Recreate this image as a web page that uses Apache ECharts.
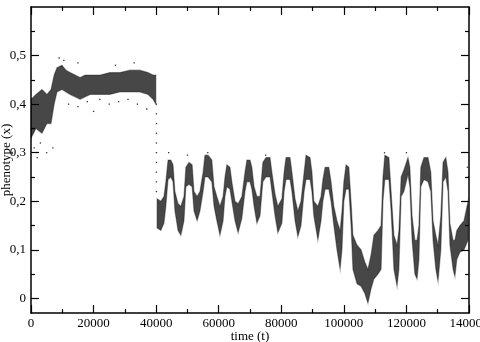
<!DOCTYPE html>
<html><head><meta charset="utf-8">
<script src="https://cdn.jsdelivr.net/npm/echarts@6/dist/echarts.min.js"></script>
<style>html,body{margin:0;padding:0;background:#fff}#c{width:480px;height:342px}</style>
</head><body><div id="c"></div>
<script>
// ---- data ----
const xTickValues = [0, 20000, 40000, 60000, 80000, 100000, 120000, 140000];
const yTickLabels = [0, 0.1, 0.2, 0.3, 0.4, 0.5];
const yMinorTicks = [0.05, 0.15, 0.25, 0.35, 0.45, 0.55];

// dense cloud of points: time, lower edge, upper edge (null = break)
const bandTime = [
  0,1600,3500,5100,6400,7400,8300,9900,11200,12500,14100,15700,17300,18900,22100,25200,28400,31600,34800,37400,39000,39900,
  null,
  40300,41500,42500,43100,43800,44700,45400,46000,47000,47900,48900,49500,50500,51500,52100,53100,54000,55000,55600,56600,
  57800,58500,59400,60400,61400,62000,62600,63600,64200,65200,66200,67400,68400,69000,70000,70600,71300,72200,73200,74100,
  75100,76400,77000,78000,78900,80200,80900,81500,82800,83400,84400,85300,86300,87300,87900,89200,89800,90400,91700,92700,
  93300,94000,95200,95900,96800,97800,98800,99400,100000,100700,101600,102300,102900,104200,105500,106700,107700,108700,
  109600,110900,111900,112500,113100,114400,115100,116000,117000,117600,118300,119200,120500,121100,121800,122700,123400,
  124000,124600,125600,126900,127800,128500,129400,130100,131000,131700,132600,133300,133900,134900,135500,136100,137100,
  138400,139700
];
const bandLow = [
  0.33,0.35,0.34,0.36,0.36,0.40,0.425,0.43,0.425,0.42,0.415,0.41,0.415,0.42,0.42,0.42,0.425,0.425,0.425,0.42,0.41,0.40,
  null,
  0.145,0.14,0.155,0.19,0.245,0.25,0.24,0.18,0.14,0.13,0.16,0.23,0.235,0.23,0.18,0.16,0.18,0.22,0.25,0.25,
  0.24,0.19,0.16,0.13,0.16,0.21,0.23,0.225,0.20,0.16,0.135,0.165,0.22,0.24,0.24,0.225,0.19,0.155,0.17,0.24,
  0.25,0.25,0.22,0.17,0.135,0.155,0.22,0.245,0.245,0.22,0.16,0.127,0.15,0.22,0.245,0.245,0.22,0.17,0.12,0.16,
  0.20,0.225,0.225,0.20,0.15,0.10,0.06,0.10,0.20,0.225,0.225,0.15,0.06,0.03,0.025,0.01,-0.01,0.02,
  0.04,0.05,0.06,0.20,0.245,0.245,0.18,0.06,0.025,0.06,0.21,0.22,0.255,0.23,0.12,0.05,0.04,
  0.08,0.23,0.245,0.24,0.22,0.12,0.06,0.035,0.10,0.24,0.25,0.22,0.11,0.06,0.045,0.08,0.095,
  0.10,0.12
];
const bandHigh = [
  0.41,0.42,0.43,0.42,0.43,0.46,0.475,0.48,0.47,0.465,0.46,0.455,0.46,0.46,0.46,0.465,0.465,0.47,0.47,0.465,0.46,0.46,
  null,
  0.205,0.20,0.21,0.24,0.285,0.285,0.275,0.22,0.195,0.19,0.21,0.27,0.28,0.275,0.22,0.21,0.22,0.26,0.295,0.295,
  0.285,0.23,0.21,0.19,0.21,0.25,0.275,0.27,0.24,0.20,0.195,0.21,0.26,0.285,0.285,0.27,0.23,0.21,0.21,0.28,
  0.29,0.29,0.26,0.215,0.19,0.205,0.26,0.29,0.29,0.26,0.205,0.18,0.20,0.26,0.295,0.29,0.26,0.20,0.19,0.21,
  0.245,0.27,0.27,0.24,0.19,0.16,0.14,0.18,0.24,0.275,0.27,0.20,0.13,0.11,0.10,0.075,0.06,0.09,
  0.13,0.14,0.15,0.25,0.295,0.29,0.22,0.13,0.11,0.14,0.25,0.265,0.29,0.27,0.17,0.12,0.12,
  0.15,0.27,0.29,0.29,0.26,0.16,0.13,0.11,0.17,0.28,0.29,0.26,0.155,0.12,0.12,0.14,0.15,
  0.16,0.20
];

// isolated scattered points
const strayTime = [40100,40100,40100,40100,40100,40100,40100,40100,40100,40100,
  1000,2000,3000,5000,7000,12000,15000,18000,20000,22000,25000,28000,31000,34000,37000,
  9000,10500,15000,27000,33000,44000,50000,56500,75000,113000,120000,139500,139800];
const strayValue = [0.40,0.38,0.36,0.34,0.32,0.30,0.28,0.26,0.24,0.22,
  0.31,0.29,0.32,0.30,0.31,0.40,0.395,0.405,0.385,0.41,0.40,0.405,0.41,0.40,0.39,
  0.495,0.49,0.485,0.48,0.485,0.30,0.295,0.30,0.295,0.30,0.30,0.27,0.25];

// ---- chart ----
const FONT = 'Liberation Serif';

// band runs (split at null)
const runStarts = [];
for (let i = 0; i < bandTime.length; i++) {
  if (bandTime[i] !== null && (i === 0 || bandTime[i - 1] === null)) runStarts.push(i);
}

const chart = echarts.init(document.getElementById('c'), null, {renderer: 'canvas'});
const fmtY = v => String(Math.round(v * 10) / 10).replace('.', ',');
const fmtX = v => String(Math.round(v));
const axLine = {show: true, onZero: false, lineStyle: {color: '#000', width: 1.5}};
const baseY = {
  type: 'value', min: -0.03, max: 0.6, splitLine: {show: false}, axisLine: axLine
};
chart.setOption({
  animation: false,
  grid: {left: 31, top: 7, width: 438, height: 306, containLabel: false, outerBoundsMode: 'none'},
  xAxis: [
    {type: 'value', position: 'bottom', min: 0, max: 140000, interval: 20000,
     name: 'time (t)', nameLocation: 'middle', nameGap: 17, nameMoveOverlap: false,
     nameTextStyle: {fontFamily: FONT, fontSize: 13, color: '#000'},
     axisLine: axLine,
     axisTick: {inside: true, length: 8, lineStyle: {color: '#000', width: 1.2}},
     minorTick: {show: true, splitNumber: 2, length: 4, lineStyle: {color: '#000', width: 1.2}},
     axisLabel: {fontFamily: FONT, fontSize: 13, color: '#000', margin: 4,
       customValues: xTickValues, formatter: fmtX},
     splitLine: {show: false}},
    {type: 'value', position: 'top', min: 0, max: 140000, interval: 20000,
     axisLine: axLine,
     axisTick: {inside: true, length: 8, lineStyle: {color: '#000', width: 1.2}},
     minorTick: {show: true, splitNumber: 2, length: 4, lineStyle: {color: '#000', width: 1.2}},
     axisLabel: {show: false}, splitLine: {show: false}}
  ],
  yAxis: [
    Object.assign({}, baseY, {position: 'left',
      name: 'phenotype (x)', nameLocation: 'middle', nameGap: 18, nameRotate: 90, nameMoveOverlap: false,
      nameTextStyle: {fontFamily: FONT, fontSize: 13, color: '#000'},
      axisTick: {inside: true, length: 8, customValues: yTickLabels, lineStyle: {color: '#000', width: 1.2}},
      axisLabel: {fontFamily: FONT, fontSize: 13, color: '#000', margin: 5,
        customValues: yTickLabels, formatter: fmtY}}),
    Object.assign({}, baseY, {position: 'left', axisLine: {show: false, onZero: false},
      axisTick: {inside: true, length: 4, customValues: yMinorTicks, lineStyle: {color: '#000', width: 1.2}},
      axisLabel: {show: false}}),
    Object.assign({}, baseY, {position: 'right',
      axisTick: {inside: true, length: 8, customValues: yTickLabels, lineStyle: {color: '#000', width: 1.2}},
      axisLabel: {show: false}}),
    Object.assign({}, baseY, {position: 'right', axisLine: {show: false, onZero: false},
      axisTick: {inside: true, length: 4, customValues: yMinorTicks, lineStyle: {color: '#000', width: 1.2}},
      axisLabel: {show: false}})
  ],
  series: [
    {type: 'custom', xAxisIndex: 0, yAxisIndex: 0, clip: true,
     data: runStarts.map(i => [bandTime[i], bandLow[i]]),
     renderItem: function (params, api) {
       const start = runStarts[params.dataIndex];
       let end = start;
       while (end + 1 < bandTime.length && bandTime[end + 1] !== null) end++;
       const pts = [];
       for (let i = start; i <= end; i++) pts.push(api.coord([bandTime[i], bandHigh[i]]));
       for (let i = end; i >= start; i--) pts.push(api.coord([bandTime[i], bandLow[i]]));
       return {type: 'polygon', shape: {points: pts},
         style: {fill: 'rgba(0,0,0,0.72)', stroke: 'rgba(0,0,0,0.35)', lineWidth: 1.2}};
     }},
    {type: 'scatter', xAxisIndex: 0, yAxisIndex: 0, symbol: 'rect', symbolSize: 1.3,
     itemStyle: {color: '#000'},
     data: strayTime.map((t, i) => [t, strayValue[i]])}
  ]
});
</script></body></html>
